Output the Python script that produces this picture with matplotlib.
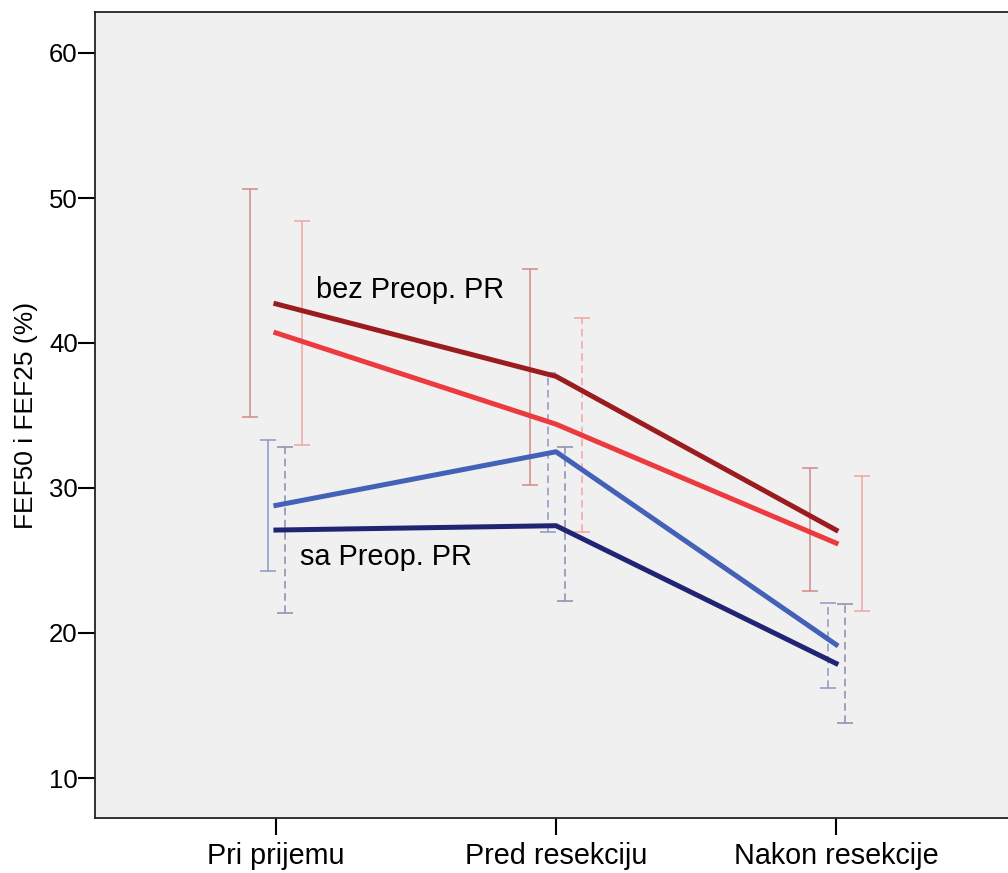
import matplotlib
matplotlib.use("Agg")
import matplotlib.pyplot as plt
import numpy as np

categories = ["Pri prijemu", "Pred resekciju", "Nakon resekcije"]

# Mean lines
bez_fef50 = [42.7, 37.7, 27.1]   # dark red
bez_fef25 = [40.7, 34.4, 26.2]   # red
sa_fef50 = [28.8, 32.5, 19.2]    # blue
sa_fef25 = [27.1, 27.4, 17.9]    # navy

# Error bars (low, high) for four clustered positions per category
err1_low = [34.9, 30.2, 22.9]
err1_high = [50.6, 45.1, 31.4]
err2_low = [24.3, 27.0, 16.2]
err2_high = [33.3, 37.9, 22.1]
err3_low = [21.4, 22.2, 13.8]
err3_high = [32.8, 32.8, 22.0]
err4_low = [33.0, 27.0, 21.5]
err4_high = [48.4, 41.7, 30.8]

yticks = [10, 20, 30, 40, 50, 60]

plt.rcParams['font.family'] = ['Liberation Sans', 'DejaVu Sans']

fig = plt.figure(figsize=(10.08, 8.73), dpi=100)
ax = fig.add_axes([95/1008, 1 - 818/873, 922/1008, (818 - 12)/873])
ax.set_facecolor('#f0f0f0')

x = np.arange(len(categories))

dash = (0, (5, 3))
specs = [
    (-0.093, err1_low, err1_high, '#d08a8a', ['-', '-', '-']),
    (-0.029, err2_low, err2_high, '#8e96c8', ['-', dash, dash]),
    (0.032, err3_low, err3_high, '#8a8cb0', [dash, dash, dash]),
    (0.093, err4_low, err4_high, '#f0a4a4', ['-', dash, '-']),
]
for off, lo, hi, col, styles in specs:
    for i in range(len(categories)):
        mid = (lo[i] + hi[i]) / 2
        eb = ax.errorbar([x[i] + off], [mid], yerr=[[mid - lo[i]], [hi[i] - mid]],
                         fmt='none', ecolor=col, elinewidth=1.1, capsize=5.8,
                         capthick=1.1, zorder=2)
        for lc in eb[2]:
            lc.set_linestyle(styles[i])

lw = 3.6
ax.plot(x, bez_fef50, color='#9b1c1f', lw=lw, zorder=3)
ax.plot(x, bez_fef25, color='#ec3a3e', lw=lw, zorder=3)
ax.plot(x, sa_fef50, color='#4461b8', lw=lw, zorder=3)
ax.plot(x, sa_fef25, color='#202473', lw=lw, zorder=3)

ax.text(0.143, 43.65, "bez Preop. PR", fontsize=20.8, va='center', ha='left', zorder=4)
ax.text(0.086, 25.25, "sa Preop. PR", fontsize=20.8, va='center', ha='left', zorder=4)

ax.set_xlim(-0.646, 2.646)
ax.set_ylim(60 - (818 - 53)/14.5, 60 + (53 - 12)/14.5)
ax.set_xticks(x)
ax.set_xticklabels(categories, fontsize=20.7)
ax.set_yticks(yticks)
ax.set_yticklabels([str(t) for t in yticks], fontsize=18.5)
ax.tick_params(axis='both', direction='out', length=12.5, width=1.5, color='black')
ax.tick_params(axis='x', pad=4.5)
ax.tick_params(axis='y', pad=0)

for s in ['left', 'bottom', 'top']:
    ax.spines[s].set_linewidth(1.3)
    ax.spines[s].set_color('#222222')
ax.spines['right'].set_visible(False)

ax.set_ylabel("FEF50 i FEF25 (%)", fontsize=19, labelpad=8)

fig.savefig("out.png", dpi=100)
